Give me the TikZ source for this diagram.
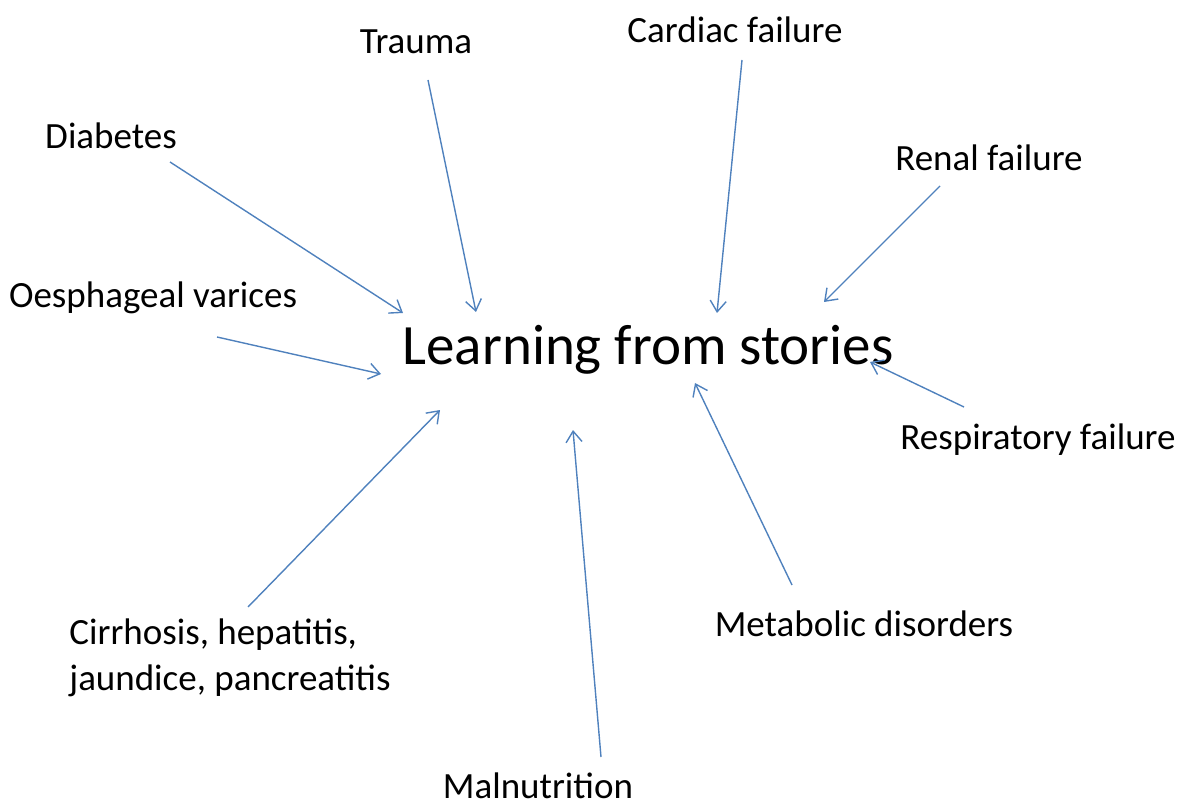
\documentclass[tikz,border=0pt]{standalone}
\usepackage{fontspec}
\setmainfont{Carlito}
\usetikzlibrary{arrows.meta}
\definecolor{arrowblue}{RGB}{79,129,189}
\begin{document}
\begin{tikzpicture}[x=1pt,y=-1pt,
  lbl/.style={inner sep=0pt,font=\fontsize{37}{46}\selectfont},
  conn/.style={draw=arrowblue,line width=1.4pt,-{Straight Barb[length=11pt,width=16pt,line width=1.4pt]}}]
\useasboundingbox (0,0) rectangle (1192,810);
\node[inner sep=0pt,font=\fontsize{57}{60}\selectfont] (center) at (648,350) {Learning from stories};
\node[lbl] (trauma) at (416,42) {Trauma};
\node[lbl] (cardiac) at (735,30) {Cardiac failure};
\node[lbl] (diabetes) at (111,136) {Diabetes};
\node[lbl] (renal) at (989,158) {Renal failure};
\node[lbl] (oes) at (153,298) {Oesphageal varices};
\node[lbl] (resp) at (1038,440) {Respiratory failure};
\node[lbl] (metab) at (864,624) {Metabolic disorders};
\node[lbl,align=left] (cirr) at (230,658) {Cirrhosis, hepatitis,\\jaundice, pancreatitis};
\node[lbl] (maln) at (538,786) {Malnutrition};
\coordinate (dS) at (170,162); \coordinate (dE) at (403,313);
\coordinate (tS) at (428,80);  \coordinate (tE) at (476,312);
\coordinate (cS) at (742,60);  \coordinate (cE) at (717,313);
\coordinate (rS) at (940,186); \coordinate (rE) at (824,302);
\coordinate (oS) at (217,337); \coordinate (oE) at (381,374);
\coordinate (pS) at (964,407); \coordinate (pE) at (870,362);
\coordinate (mS) at (792,585); \coordinate (mE) at (695,383);
\coordinate (hS) at (248,607); \coordinate (hE) at (440,410);
\coordinate (nS) at (601,757); \coordinate (nE) at (573,430);
\draw[conn] (dS) -- (dE);
\draw[conn] (tS) -- (tE);
\draw[conn] (cS) -- (cE);
\draw[conn] (rS) -- (rE);
\draw[conn] (oS) -- (oE);
\draw[conn] (pS) -- (pE);
\draw[conn] (mS) -- (mE);
\draw[conn] (hS) -- (hE);
\draw[conn] (nS) -- (nE);
\end{tikzpicture}
\end{document}
